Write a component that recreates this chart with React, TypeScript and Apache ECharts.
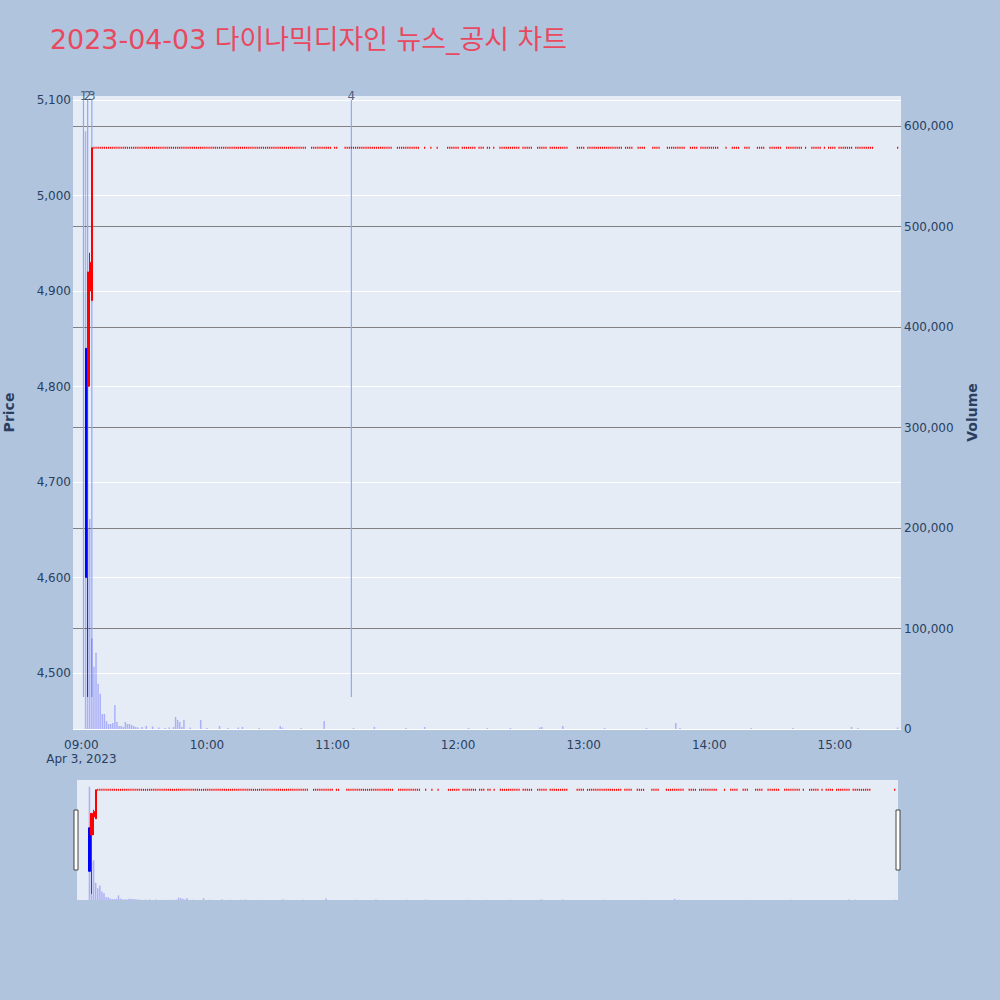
import React, { useEffect, useRef } from "react";
import * as echarts from "echarts";

const TITLE = "2023-04-03 다이나믹디자인 뉴스_공시 차트";
const DATE_LABEL = "Apr 3, 2023";

// Opening candles (1-minute)
const earlyTimes = ["09:02", "09:03", "09:04", "09:05"];
const earlyOpen = [4840, 4800, 4900, 4890];
const earlyHigh = [4840, 4920, 4940, 5050];
const earlyLow = [4600, 4475, 4800, 4890];
const earlyClose = [4600, 4920, 4930, 5050];
const earlyVolume = [595000, 200000, 209000, 90000];

// Minutes traded at the upper limit price (open = high = low = close)
const limitPrice = 5050;
const limitRanges: [string, string][] = [
  ["09:06", "10:47"],
  ["10:50", "10:59"],
  ["11:01", "11:02"],
  ["11:06", "11:28"],
  ["11:31", "11:41"],
  ["11:44", "11:44"],
  ["11:47", "11:47"],
  ["11:50", "11:50"],
  ["11:55", "12:00"],
  ["12:02", "12:08"],
  ["12:10", "12:12"],
  ["12:14", "12:15"],
  ["12:17", "12:17"],
  ["12:20", "12:29"],
  ["12:31", "12:35"],
  ["12:38", "12:42"],
  ["12:44", "12:52"],
  ["12:57", "13:00"],
  ["13:02", "13:18"],
  ["13:20", "13:23"],
  ["13:26", "13:29"],
  ["13:33", "13:36"],
  ["13:40", "13:48"],
  ["13:51", "13:54"],
  ["13:56", "14:04"],
  ["14:08", "14:08"],
  ["14:11", "14:14"],
  ["14:17", "14:19"],
  ["14:23", "14:26"],
  ["14:29", "14:34"],
  ["14:37", "14:44"],
  ["14:46", "14:46"],
  ["14:49", "14:53"],
  ["14:55", "14:55"],
  ["14:57", "15:00"],
  ["15:02", "15:08"],
  ["15:10", "15:18"],
  ["15:30", "15:30"],
];

// Volume of the upper-limit minutes
const volTimes = [
  "09:06", "09:07", "09:08", "09:09", "09:10", "09:11", "09:12", "09:13", "09:14", "09:15",
  "09:16", "09:17", "09:18", "09:19", "09:20", "09:21", "09:22", "09:23", "09:24", "09:25",
  "09:26", "09:27", "09:29", "09:31", "09:34", "09:37", "09:40", "09:42", "09:44", "09:45",
  "09:46", "09:47", "09:48", "09:49", "09:52", "09:57", "10:00", "10:06", "10:10", "10:15",
  "10:17", "10:25", "10:35", "10:36", "10:45", "10:56", "11:10", "11:20", "11:35", "11:44",
  "12:05", "12:14", "12:25", "12:39", "12:40", "12:50", "13:10", "13:30", "13:44", "13:46",
  "14:20", "14:40", "15:08", "15:11", "15:30",
];
const volValues = [
  62000, 76000, 45000, 35000, 15000, 15000, 8000, 5000, 5000, 6000,
  24000, 7000, 3000, 3000, 2000, 7000, 5000, 5000, 4000, 3000,
  2000, 1500, 2000, 3000, 2500, 1500, 1000, 1500, 2000, 12000,
  9000, 7000, 2000, 9000, 1500, 9000, 1000, 3000, 1000, 1500,
  2000, 1000, 3000, 1500, 1000, 8000, 1000, 2000, 1000, 2000,
  1000, 1000, 1000, 1500, 2000, 3000, 1000, 1000, 6000, 1000,
  1000, 1000, 2000, 1000, 1500,
];

// News / disclosure markers
const noteLabels = ["1", "2", "3", "4"];
const noteTimes = ["09:01", "09:03", "09:05", "11:09"];
const noteLow = 4475;
const noteHigh = 5100;

const hourTicks = ["09:00", "10:00", "11:00", "12:00", "13:00", "14:00", "15:00"];

const X_MIN = -4.0;
const X_MAX = 391.6;
const PRICE_MIN = 4441.4;
const PRICE_MAX = 5104.2;
const VOL_MAX = 630000;

const toMin = (t: string) => {
  const [h, m] = t.split(":").map(Number);
  return (h - 9) * 60 + m;
};
const fmtHM = (m: number) => {
  const h = 9 + Math.floor(m / 60);
  const mm = Math.round(m % 60);
  return `${String(h).padStart(2, "0")}:${String(mm).padStart(2, "0")}`;
};

function buildData() {
  const candles: number[][] = [];
  const flats: number[][] = [];
  const volumes: number[][] = [];
  earlyTimes.forEach((t, i) => {
    const x = toMin(t);
    candles.push([x, earlyOpen[i], earlyClose[i], earlyLow[i], earlyHigh[i]]);
    volumes.push([x, earlyVolume[i]]);
  });
  limitRanges.forEach(([a, b]) => {
    for (let m = toMin(a); m <= toMin(b); m++) flats.push([m, limitPrice]);
  });
  volTimes.forEach((t, i) => volumes.push([toMin(t), volValues[i]]));
  return { candles, flats, volumes };
}

const TEXT = "#2a3f5f";
const FONT = '"DejaVu Sans", Verdana, sans-serif';

export default function App() {
  const ref = useRef<HTMLDivElement>(null);
  useEffect(() => {
    if (!ref.current) return;
    const chart = echarts.init(ref.current, undefined, { renderer: "svg" });
    const { candles, flats, volumes } = buildData();
    const candleStyle = {
      color: "#ff0000",
      color0: "#0000ff",
      borderColor: "#ff0000",
      borderColor0: "#0000ff",
      borderColorDoji: "#ff0000",
      borderWidth: 1,
    };
    const barColor = "rgba(0,0,255,0.25)";
    const noteColor = "#8fa9f5";
    const flatSeries = (xi: number, yi: number, size: number[]) => ({
      type: "scatter",
      xAxisIndex: xi,
      yAxisIndex: yi,
      data: flats,
      symbol: "rect",
      symbolSize: size,
      itemStyle: { color: "#ff0000", opacity: 1 },
      silent: true,
      z: 2,
    });
    const noteLineSeries = noteTimes.map((t) => ({
      type: "line",
      xAxisIndex: 0,
      yAxisIndex: 0,
      data: [
        [toMin(t), noteLow],
        [toMin(t), noteHigh],
      ],
      symbol: "none",
      showSymbol: false,
      lineStyle: { color: noteColor, width: 1.2 },
      itemStyle: { color: noteColor },
      silent: true,
      z: 1,
    }));
    const noteLabelSeries = {
      type: "scatter",
      xAxisIndex: 0,
      yAxisIndex: 0,
      data: noteTimes.map((t, i) => ({ value: [toMin(t), noteHigh], name: noteLabels[i] })),
      symbolSize: 1,
      itemStyle: { color: "rgba(0,0,0,0)" },
      label: {
        show: true,
        position: "top",
        distance: -2,
        color: TEXT,
        fontSize: 12,
        formatter: (p: any) => p.name,
      },
      silent: true,
      z: 4,
    };
    const option: any = {
      animation: false,
      backgroundColor: "#B0C4DE",
      textStyle: { fontFamily: FONT },
      title: {
        text: TITLE,
        left: 45,
        top: 21,
        textStyle: {
          color: "#E8495F",
          fontSize: 26.9,
          fontWeight: "normal",
          fontFamily: '"DejaVu Sans", "Noto Sans CJK KR", sans-serif',
        },
      },
      grid: [
        { left: 73, top: 96, width: 828, height: 633, show: true, backgroundColor: "#E5ECF6", borderWidth: 0, outerBoundsMode: "none", containLabel: false },
        { left: 77, top: 780, width: 821, height: 120, show: true, backgroundColor: "#E5ECF6", borderWidth: 0, outerBoundsMode: "none", containLabel: false },
      ],
      xAxis: [
        {
          type: "value",
          gridIndex: 0,
          min: X_MIN,
          max: X_MAX,
          splitLine: { show: false },
          axisLine: { show: false },
          axisTick: { show: false },
          axisLabel: {
            customValues: hourTicks.map(toMin),
            color: TEXT,
            fontSize: 12,
            margin: 9,
            lineHeight: 14,
            formatter: (v: number) => (v === 0 ? `${fmtHM(v)}\n${DATE_LABEL}` : fmtHM(v)),
          },
        },
        { type: "value", gridIndex: 1, min: X_MIN, max: X_MAX, show: false },
      ],
      yAxis: [
        {
          type: "value",
          gridIndex: 0,
          position: "left",
          min: PRICE_MIN,
          max: PRICE_MAX,
          name: "Price",
          nameLocation: "middle",
          nameGap: 57,
          nameRotate: 90,
          nameTextStyle: { color: TEXT, fontSize: 14, fontWeight: "bold" },
          axisLine: { show: false },
          axisTick: { show: false },
          axisLabel: {
            color: TEXT,
            fontSize: 12,
            margin: 2,
            showMinLabel: false,
            showMaxLabel: false,
            formatter: (v: number) => v.toLocaleString("en-US"),
          },
          splitLine: { show: true, showMaxLine: false, lineStyle: { color: "#ffffff", width: 1 } },
        },
        {
          type: "value",
          gridIndex: 0,
          position: "right",
          min: 0,
          max: VOL_MAX,
          name: "Volume",
          nameLocation: "middle",
          nameGap: 64,
          nameRotate: 90,
          nameTextStyle: { color: TEXT, fontSize: 14, fontWeight: "bold" },
          axisLine: { show: false },
          axisTick: { show: false },
          axisLabel: {
            color: TEXT,
            fontSize: 12,
            margin: 3,
            showMaxLabel: false,
            formatter: (v: number) => v.toLocaleString("en-US"),
          },
          splitLine: {
            show: true,
            showMinLine: false,
            showMaxLine: false,
            lineStyle: { color: "#808080", width: 1 },
          },
        },
        { type: "value", gridIndex: 1, min: PRICE_MIN, max: PRICE_MAX, show: false },
        { type: "value", gridIndex: 1, min: 0, max: VOL_MAX, show: false },
      ],
      series: [
        ...noteLineSeries,
        {
          type: "candlestick",
          xAxisIndex: 0,
          yAxisIndex: 0,
          data: candles,
          encode: { x: 0, y: [1, 2, 3, 4] },
          barWidth: 1.6,
          itemStyle: candleStyle,
          z: 2,
        },
        flatSeries(0, 0, [1.2, 2]),
        noteLabelSeries,
        {
          type: "bar",
          xAxisIndex: 0,
          yAxisIndex: 1,
          data: volumes,
          barWidth: 1.5,
          itemStyle: { color: barColor },
          z: 3,
        },
        {
          type: "candlestick",
          xAxisIndex: 1,
          yAxisIndex: 2,
          data: candles,
          encode: { x: 0, y: [1, 2, 3, 4] },
          barWidth: 1.6,
          itemStyle: candleStyle,
          silent: true,
        },
        flatSeries(1, 2, [1.2, 2]),
        {
          type: "bar",
          xAxisIndex: 1,
          yAxisIndex: 3,
          data: volumes,
          barWidth: 1.5,
          itemStyle: { color: barColor },
          silent: true,
        },
      ],
      graphic: [
        { type: "rect", shape: { x: 74, y: 810, width: 4, height: 60 }, style: { fill: "#ffffff", stroke: "#444444", lineWidth: 1 } },
        { type: "rect", shape: { x: 896, y: 810, width: 4, height: 60 }, style: { fill: "#ffffff", stroke: "#444444", lineWidth: 1 } },
      ],
    };
    chart.setOption(option);
    return () => chart.dispose();
  }, []);
  return (
    <div
      ref={ref}
      style={{ position: "fixed", left: 0, top: 0, width: 1000, height: 1000 }}
    />
  );
}
